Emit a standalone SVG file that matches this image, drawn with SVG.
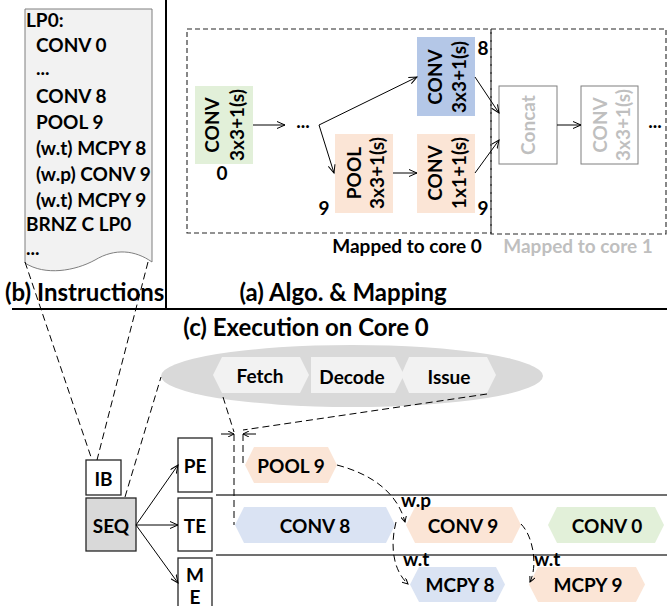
<svg xmlns="http://www.w3.org/2000/svg" width="667" height="606" viewBox="0 0 667 606">
<defs>
<style>
text{font-family:Lato,"Liberation Sans",sans-serif;font-weight:bold;fill:#000;}
.t{font-size:19px;}
.h{font-size:24px;}
.c{text-anchor:middle;dominant-baseline:central;}
.g{fill:#bfbfbf;}
.dash{fill:none;stroke:#000;stroke-width:1;stroke-dasharray:7,4;}
.box{fill:none;stroke:#262626;stroke-width:1.1;stroke-dasharray:5,3;}
.arr{fill:none;stroke:#000;stroke-width:1;marker-end:url(#ah);}
.unit{fill:#fff;stroke:#262626;stroke-width:1.3;}
.rule{stroke:#404040;stroke-width:1.5;}
</style>
<marker id="ah" markerWidth="10" markerHeight="8" refX="8" refY="4" orient="auto" markerUnits="userSpaceOnUse">
<path d="M0,0.5 L8,4 L0,7.5" fill="none" stroke="#000" stroke-width="1"/>
</marker>
<marker id="ahs" markerWidth="8" markerHeight="6" refX="6" refY="3" orient="auto" markerUnits="userSpaceOnUse">
<path d="M0,0 L6,3 L0,6" fill="none" stroke="#000" stroke-width="1"/>
</marker>
</defs>

<!-- frame rules -->
<line x1="166" y1="0" x2="166" y2="309" stroke="#000" stroke-width="2"/>
<line x1="12" y1="309" x2="667" y2="309" stroke="#000" stroke-width="2"/>

<!-- (b) Instructions -->
<g id="instructions">
<path d="M25,9 L152,9 L152,262 C135,250 115,248 95,260 C75,271 45,276 25,263 Z" fill="#f2f2f2" stroke="#7f7f7f" stroke-width="1"/>
<text class="t" x="26" y="27">LP0:</text>
<text class="t" x="36" y="51.5">CONV 0</text>
<text class="t" x="36" y="75">...</text>
<text class="t" x="36" y="103">CONV 8</text>
<text class="t" x="36" y="129">POOL 9</text>
<text class="t" x="36" y="155">(w.t) MCPY 8</text>
<text class="t" x="36" y="181">(w.p) CONV 9</text>
<text class="t" x="36" y="206.5">(w.t) MCPY 9</text>
<text class="t" x="26" y="230.5">BRNZ C LP0</text>
<text class="t" x="26" y="255">...</text>
</g>
<text class="h" x="5" y="301">(b) Instructions</text>

<!-- (a) Algo & Mapping -->
<g id="core0-region">
<rect class="box" x="187" y="29" width="304" height="204"/>
<text class="t" x="407" y="253" text-anchor="middle">Mapped to core 0</text>
</g>
<g id="core1-region">
<rect class="box" x="491" y="29" width="175" height="205"/>
<text class="t g" x="578" y="253" text-anchor="middle">Mapped to core 1</text>
</g>

<g id="conv0">
<rect x="195" y="86" width="58" height="78" fill="#e2f0d9"/>
<text class="t c" transform="rotate(-90 211 125)" x="211" y="125">CONV</text>
<text class="t c" transform="rotate(-90 236 125)" x="236" y="125">3x3+1(s)</text>
<text class="t" x="222" y="180" text-anchor="middle">0</text>
</g>
<text class="t" x="303" y="128" text-anchor="middle">...</text>
<g id="conv8">
<rect x="417" y="37" width="58" height="79" fill="#b4c7e7"/>
<text class="t c" transform="rotate(-90 434 77)" x="434" y="77">CONV</text>
<text class="t c" transform="rotate(-90 458 77)" x="458" y="77">3x3+1(s)</text>
<text class="t" x="483" y="55" text-anchor="middle">8</text>
</g>
<g id="pool9">
<rect x="335" y="134" width="58" height="79" fill="#fbe5d6"/>
<text class="t c" transform="rotate(-90 353 173)" x="353" y="173">POOL</text>
<text class="t c" transform="rotate(-90 376 173)" x="376" y="173">3x3+1(s)</text>
<text class="t" x="324" y="215" text-anchor="middle">9</text>
</g>
<g id="conv9">
<rect x="417" y="134" width="58" height="79" fill="#fbe5d6"/>
<text class="t c" transform="rotate(-90 434 173)" x="434" y="173">CONV</text>
<text class="t c" transform="rotate(-90 458 173)" x="458" y="173">1x1+1(s)</text>
<text class="t" x="483" y="215" text-anchor="middle">9</text>
</g>
<g id="concat">
<rect x="499" y="86" width="58" height="78" fill="#fff" stroke="#7f7f7f" stroke-width="1"/>
<text class="t c g" transform="rotate(-90 527 125)" x="527" y="125">Concat</text>
</g>
<g id="conv-core1">
<rect x="581" y="86" width="57" height="78" fill="#fff" stroke="#7f7f7f" stroke-width="1"/>
<text class="t c g" transform="rotate(-90 599 125)" x="599" y="125">CONV</text>
<text class="t c g" transform="rotate(-90 622 125)" x="622" y="125">3x3+1(s)</text>
</g>
<text class="t" x="655" y="128" text-anchor="middle">...</text>

<g id="algo-connectors">
<line class="arr" x1="253" y1="125" x2="285" y2="125"/>
<line class="arr" x1="319" y1="125" x2="417" y2="77"/>
<line class="arr" x1="319" y1="125" x2="334" y2="173"/>
<line class="arr" x1="393" y1="173" x2="417" y2="173"/>
<line class="arr" x1="475" y1="77" x2="499" y2="113"/>
<line class="arr" x1="475" y1="173" x2="499" y2="140"/>
<line class="arr" x1="557" y1="125" x2="581" y2="125"/>
</g>
<text class="h" x="343" y="301" text-anchor="middle">(a) Algo. &amp; Mapping</text>

<!-- (c) Execution -->
<text class="h" x="306" y="336" text-anchor="middle">(c) Execution on Core 0</text>

<g id="pipeline">
<ellipse cx="352" cy="376" rx="191" ry="31" fill="#d9d9d9"/>
<path d="M222,357 L300,357 L309,375 L300,393 L222,393 L213,375 Z" fill="#f2f2f2"/>
<path d="M311,357 L395,357 L404,375 L395,393 L311,393 Z" fill="#f2f2f2"/>
<path d="M409,357 L487,357 L496,375 L487,393 L409,393 L401,375 Z" fill="#f2f2f2"/>
<text class="t c" x="260" y="375">Fetch</text>
<text class="t c" x="352" y="376">Decode</text>
<text class="t c" x="449" y="376">Issue</text>
</g>

<g id="IB"><rect class="unit" x="86" y="460" width="35" height="35"/><text class="t c" x="103.5" y="478">IB</text></g>
<g id="SEQ"><rect x="86" y="498" width="50" height="53" fill="#d9d9d9" stroke="#262626" stroke-width="1.3"/><text class="t c" x="111" y="525">SEQ</text></g>
<g id="PE"><rect class="unit" x="178" y="438" width="34" height="54"/><text class="t c" x="195" y="465">PE</text></g>
<g id="TE"><rect class="unit" x="178" y="498" width="34" height="53"/><text class="t c" x="195" y="525">TE</text></g>
<g id="ME"><rect class="unit" x="178" y="558" width="34" height="56"/><text class="t c" x="195" y="574">M</text><text class="t c" x="195" y="596">E</text></g>

<line class="rule" x1="216" y1="495" x2="667" y2="495"/>
<line class="rule" x1="216" y1="555" x2="667" y2="555"/>

<g id="pool9-exec"><path d="M254,447 L328,447 L337,465 L328,483 L254,483 L245,465 Z" fill="#fbe5d6"/><text class="t c" x="291" y="465">POOL 9</text></g>
<g id="conv8-exec"><path d="M244,507 L386,507 L395,525 L386,543 L244,543 L235,525 Z" fill="#dae3f3"/><text class="t c" x="315" y="525">CONV 8</text></g>
<g id="conv9-exec"><path d="M415,507 L512,507 L521,525 L512,543 L415,543 L406,525 Z" fill="#fbe5d6"/><text class="t c" x="463" y="525">CONV 9</text></g>
<g id="conv0-exec"><path d="M557,507 L655,507 L664,525 L655,543 L557,543 L548,525 Z" fill="#e2f0d9"/><text class="t c" x="607" y="525">CONV 0</text></g>
<g id="mcpy8-exec"><path d="M419,567 L496,567 L505,584.5 L496,602 L419,602 L410,584.5 Z" fill="#dae3f3"/><text class="t c" x="460" y="584">MCPY 8</text></g>
<g id="mcpy9-exec"><path d="M538,567 L636,567 L645,584.5 L636,602 L538,602 L529,584.5 Z" fill="#fbe5d6"/><text class="t c" x="588" y="584">MCPY 9</text></g>

<text class="t" x="401" y="507">w.p</text>
<text class="t" x="403" y="566">w.t</text>
<text class="t" x="534" y="566">w.t</text>

<g id="connectors">
<line class="dash" x1="25" y1="262" x2="92" y2="460"/>
<line class="dash" x1="148" y1="262" x2="97" y2="460"/>
<line class="dash" x1="125" y1="497" x2="161" y2="377"/>
<line class="arr" x1="136" y1="525" x2="178" y2="465"/>
<line class="arr" x1="136" y1="525" x2="178" y2="525"/>
<line class="arr" x1="136" y1="525" x2="178" y2="583"/>
<line class="dash" x1="223" y1="397" x2="234" y2="432"/>
<line class="dash" x1="487" y1="394" x2="243" y2="430"/>
<line class="dash" x1="234" y1="434" x2="234" y2="525"/>
<line class="dash" x1="243" y1="434" x2="243" y2="465"/>
<line x1="221" y1="434" x2="234" y2="434" stroke="#000" stroke-width="1" marker-end="url(#ahs)"/>
<line x1="256" y1="434" x2="243" y2="434" stroke="#000" stroke-width="1" marker-end="url(#ahs)"/>
<path class="dash" d="M337,465 C375,475 398,495 405,522" marker-end="url(#ahs)" stroke-dasharray="5,3"/>
<path class="dash" d="M396,522 C389,550 395,572 408,584" marker-end="url(#ahs)" stroke-dasharray="5,3"/>
<path class="dash" d="M521,524 C533,536 538,565 530,582" marker-end="url(#ahs)" stroke-dasharray="5,3"/>
</g>
</svg>
